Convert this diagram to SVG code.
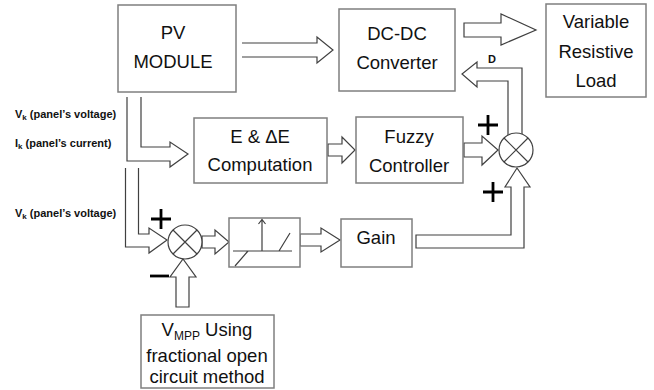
<svg xmlns="http://www.w3.org/2000/svg" width="654" height="390" viewBox="0 0 654 390">
<style>
.box{fill:#fff;stroke:#7f7f7f;stroke-width:1.5}
.t{font-family:"Liberation Sans",Arial,sans-serif;font-size:18.5px;fill:#111;text-anchor:middle}
.s{font-family:"Liberation Sans",Arial,sans-serif;font-size:11px;font-weight:bold;fill:#111}
.ar{fill:#fff;stroke:#404040;stroke-width:1.2;stroke-linejoin:miter}
.ln{fill:none;stroke:#404040;stroke-width:1.2}
.sum{fill:#fff;stroke:#404040;stroke-width:1.2}
.sign{fill:none;stroke:#000;stroke-width:2.8}
</style>
<rect width="654" height="390" fill="#fff"/>
<g id="connectors">
<path class="ar" d="M242,43 H317 V37 L333,50 L317,63 V57 H242"/>
<path class="ar" d="M127,97 V161 H170 V167 L188,154 L170,142 V147 H141 V97"/>
<path class="ar" d="M125.5,168 V247 H149 V253 L167,240 L149,228 V234 H138.5 V168"/>
<path class="ar" d="M202,236 H215 V230 L229,242 L215,254 V248 H202 Z"/>
<path class="ar" d="M300,234 H321 V228 L340,240 L321,252 V246 H300 Z"/>
<path class="ar" d="M176,307 V277 H170 L183,259 L196,277 H189 V307 Z"/>
<path class="ar" d="M328,144 H342 V137 L355,150 L342,163 V156 H328 Z"/>
<path class="ar" d="M464,143 H482 V136 L498,150 L482,165 V157 H464 Z"/>
<path class="ar" d="M416,235 H511 V187 H505 L517,168 L530,187 H524 V248 H416 Z"/>
<path class="ar" d="M508,135 V81 H477 V87 L462,74 L477,62 V68 H522 V134"/>
<path class="ar" d="M464,23 H501 V14 L536,30 L501,45 V37 H464 Z"/>
</g>
<g id="pv-module">
<rect class="box" x="118" y="5" width="118" height="87"/>
<text class="t" x="173" y="39">PV</text>
<text class="t" x="173" y="68">MODULE</text>
</g>
<g id="dcdc">
<rect class="box" x="339" y="9" width="116" height="82"/>
<text class="t" x="397" y="40">DC-DC</text>
<text class="t" x="397" y="69">Converter</text>
</g>
<g id="load">
<rect class="box" x="546" y="4" width="100" height="93"/>
<text class="t" x="596" y="28">Variable</text>
<text class="t" x="596" y="58">Resistive</text>
<text class="t" x="596" y="87">Load</text>
</g>
<g id="e-computation">
<rect class="box" x="194" y="118" width="133" height="65"/>
<text class="t" x="260" y="143">E &amp; ΔE</text>
<text class="t" x="260" y="171">Computation</text>
</g>
<g id="fuzzy">
<rect class="box" x="356" y="117" width="107" height="66"/>
<text class="t" x="409" y="143">Fuzzy</text>
<text class="t" x="409" y="172">Controller</text>
</g>
<g id="saturation">
<rect class="box" x="229" y="218" width="71" height="49"/>
<path class="ln" d="M233,251 H292 M262,251 V220 M258.5,224 L262,219.5 L265.5,224 M235,266 L248,251 M279,251 L290,233"/>
</g>
<g id="gain">
<rect class="box" x="341" y="219" width="71" height="48"/>
<text class="t" x="376" y="244">Gain</text>
</g>
<g id="vmpp">
<rect class="box" x="141" y="315" width="133" height="73"/>
<text class="t" x="207" y="336">V<tspan font-size="12" dy="4">MPP</tspan><tspan dy="-4"> Using</tspan></text>
<text class="t" x="207" y="362">fractional open</text>
<text class="t" x="207" y="383">circuit method</text>
</g>
<g id="sum1">
<circle class="sum" cx="185" cy="242" r="17"/>
<path class="ln" d="M173,230 L197,254 M197,230 L173,254"/>
</g>
<g id="sum2">
<circle class="sum" cx="516" cy="150" r="17"/>
<path class="ln" d="M504,138 L528,162 M528,138 L504,162"/>
</g>
<g id="labels">
<text class="s" x="15" y="118">V<tspan font-size="8" dy="1.5">k</tspan><tspan dy="-1.5"> (panel’s voltage)</tspan></text>
<text class="s" x="15" y="147">I<tspan font-size="8" dy="1.5">k</tspan><tspan dy="-1.5"> (panel’s current)</tspan></text>
<text class="s" x="15" y="217">V<tspan font-size="8" dy="1.5">k</tspan><tspan dy="-1.5"> (panel’s voltage)</tspan></text>
<text class="s" x="492" y="63" text-anchor="middle">D</text>
<path class="sign" d="M151,219 H171 M161,209 V229"/>
<path class="sign" d="M150,276 H169"/>
<path class="sign" d="M478,125 H498 M488,115 V135"/>
<path class="sign" d="M483,192 H503 M493,182 V202"/>
</g>
</svg>
